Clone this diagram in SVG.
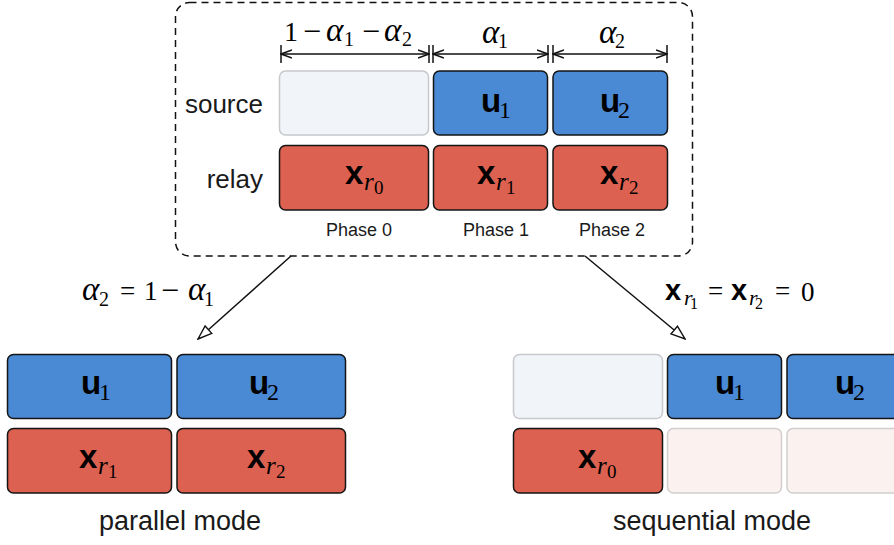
<svg xmlns="http://www.w3.org/2000/svg" width="894" height="545" viewBox="0 0 894 545">
<defs>
<style>
.bg{fill:#ffffff}
.blue{fill:#4A89D4;stroke:#151515;stroke-width:1.5}
.red{fill:#DD6150;stroke:#151515;stroke-width:1.5}
.lblue{fill:#F1F4F9;stroke:#C6C8CC;stroke-width:1.5}
.lred{fill:#FBF1EF;stroke:#D2CECE;stroke-width:1.5}
.dash{fill:none;stroke:#111;stroke-width:1.5;stroke-dasharray:7 5}
.ln{stroke:#111;stroke-width:1.5;fill:none}
.sans{font-family:"Liberation Sans",Arial,sans-serif;fill:#1a1a1a}
.bold{font-family:"Liberation Sans",Arial,sans-serif;font-weight:bold;fill:#000}
.ser{font-family:"Liberation Serif","Times New Roman",serif;fill:#000}
.it{font-style:italic}
.al{font-family:"Liberation Serif","Times New Roman",serif;font-style:italic;font-size:33px}
.mn{font-size:32px}
</style>
<marker id="dim" viewBox="0 0 12 10" refX="11" refY="5" markerWidth="12" markerHeight="10" markerUnits="userSpaceOnUse" orient="auto-start-reverse">
<path d="M0,1 L11,5 L0,9" fill="none" stroke="#111" stroke-width="1.4"/>
</marker>
<marker id="tri" viewBox="0 0 16 12" refX="15" refY="6" markerWidth="16" markerHeight="12" markerUnits="userSpaceOnUse" orient="auto">
<path d="M1,1 L15,6 L1,11 Z" fill="#fff" stroke="#111" stroke-width="1.4"/>
</marker>
</defs>
<rect class="bg" x="0" y="0" width="894" height="545"/>

<g id="frame">
<rect class="dash" x="175.5" y="2.5" width="517" height="253.5" rx="14"/>
</g>

<g id="dimensions">
<line class="ln" x1="281" y1="45" x2="281" y2="63"/>
<line class="ln" x1="429" y1="45" x2="429" y2="63"/>
<line class="ln" x1="433" y1="45" x2="433" y2="63"/>
<line class="ln" x1="548" y1="45" x2="548" y2="63"/>
<line class="ln" x1="553" y1="45" x2="553" y2="63"/>
<line class="ln" x1="667" y1="45" x2="667" y2="63"/>
<line class="ln" x1="281" y1="54" x2="429" y2="54" marker-start="url(#dim)" marker-end="url(#dim)"/>
<line class="ln" x1="433" y1="54" x2="548" y2="54" marker-start="url(#dim)" marker-end="url(#dim)"/>
<line class="ln" x1="553" y1="54" x2="667" y2="54" marker-start="url(#dim)" marker-end="url(#dim)"/>
<text class="ser" font-size="28"><tspan x="284" y="41">1</tspan><tspan class="mn" x="303" y="42">−</tspan><tspan class="al" x="326" y="41">α</tspan><tspan x="344" y="46" font-size="20">1</tspan><tspan class="mn" x="362" y="42">−</tspan><tspan class="al" x="384" y="41">α</tspan><tspan x="402" y="46" font-size="20">2</tspan></text>
<text class="ser" font-size="28"><tspan class="al" x="482" y="43">α</tspan><tspan x="498" y="48" font-size="20">1</tspan></text>
<text class="ser" font-size="28"><tspan class="al" x="599" y="43">α</tspan><tspan x="615" y="48" font-size="20">2</tspan></text>
</g>

<g id="row-labels">
<text class="sans" x="263" y="113" font-size="26" text-anchor="end">source</text>
<text class="sans" x="263" y="188" font-size="26" text-anchor="end">relay</text>
</g>

<g id="top-source-0"><rect class="lblue" x="279.5" y="71" width="149" height="64" rx="6"/></g>
<g id="top-source-1"><rect class="blue" x="433.5" y="71" width="114" height="64" rx="6"/>
<text><tspan class="bold" font-size="33" x="481" y="112">u</tspan><tspan class="ser" font-size="24" x="499" y="118">1</tspan></text></g>
<g id="top-source-2"><rect class="blue" x="553" y="71" width="114.5" height="64" rx="6"/>
<text><tspan class="bold" font-size="33" x="600" y="112">u</tspan><tspan class="ser" font-size="24" x="618" y="118">2</tspan></text></g>

<g id="top-relay-0"><rect class="red" x="279.5" y="145.5" width="149" height="64.5" rx="6"/>
<text><tspan class="bold" font-size="33" x="345" y="184">x</tspan><tspan class="ser it" font-size="25" x="364" y="190">r</tspan><tspan class="ser" font-size="19" x="374" y="194">0</tspan></text></g>
<g id="top-relay-1"><rect class="red" x="433.5" y="145.5" width="114" height="64.5" rx="6"/>
<text><tspan class="bold" font-size="33" x="477" y="184">x</tspan><tspan class="ser it" font-size="25" x="496" y="190">r</tspan><tspan class="ser" font-size="19" x="506" y="194">1</tspan></text></g>
<g id="top-relay-2"><rect class="red" x="553" y="145.5" width="114.5" height="64.5" rx="6"/>
<text><tspan class="bold" font-size="33" x="600" y="184">x</tspan><tspan class="ser it" font-size="25" x="619" y="190">r</tspan><tspan class="ser" font-size="19" x="629" y="194">2</tspan></text></g>

<g id="phase-labels">
<text class="sans" font-size="18" x="359" y="236" text-anchor="middle">Phase 0</text>
<text class="sans" font-size="18" x="496" y="236" text-anchor="middle">Phase 1</text>
<text class="sans" font-size="18" x="612" y="236" text-anchor="middle">Phase 2</text>
</g>

<g id="connectors">
<line class="ln" x1="291" y1="256" x2="198" y2="339" marker-end="url(#tri)"/>
<line class="ln" x1="585" y1="256" x2="685" y2="339" marker-end="url(#tri)"/>
<text class="ser" font-size="27"><tspan class="al" x="82" y="300">α</tspan><tspan x="99" y="306" font-size="20">2</tspan><tspan x="120" y="300">=</tspan><tspan x="144" y="300">1</tspan><tspan class="mn" x="161" y="301">−</tspan><tspan class="al" x="188" y="300">α</tspan><tspan x="204" y="306" font-size="20">1</tspan></text>
<text><tspan class="bold" font-size="29" x="665" y="300">x</tspan><tspan class="ser it" font-size="22" x="684" y="305">r</tspan><tspan class="ser" font-size="16" x="690" y="309">1</tspan><tspan class="ser" font-size="27" x="708" y="300">=</tspan><tspan class="bold" font-size="29" x="731" y="300">x</tspan><tspan class="ser it" font-size="22" x="749" y="305">r</tspan><tspan class="ser" font-size="16" x="755" y="309">2</tspan><tspan class="ser" font-size="27" x="775" y="300">=</tspan><tspan class="ser" font-size="27" x="801" y="301">0</tspan></text>
</g>

<g id="parallel-source-1"><rect class="blue" x="7.5" y="354.5" width="164" height="64" rx="6"/>
<text><tspan class="bold" font-size="33" x="81" y="394">u</tspan><tspan class="ser" font-size="24" x="99" y="400">1</tspan></text></g>
<g id="parallel-source-2"><rect class="blue" x="177" y="354.5" width="168.5" height="64" rx="6"/>
<text><tspan class="bold" font-size="33" x="249" y="394">u</tspan><tspan class="ser" font-size="24" x="267" y="400">2</tspan></text></g>
<g id="parallel-relay-1"><rect class="red" x="7.5" y="428.5" width="164" height="64.5" rx="6"/>
<text><tspan class="bold" font-size="33" x="79" y="468">x</tspan><tspan class="ser it" font-size="25" x="98" y="474">r</tspan><tspan class="ser" font-size="19" x="108" y="478">1</tspan></text></g>
<g id="parallel-relay-2"><rect class="red" x="177" y="428.5" width="168.5" height="64.5" rx="6"/>
<text><tspan class="bold" font-size="33" x="247" y="468">x</tspan><tspan class="ser it" font-size="25" x="266" y="474">r</tspan><tspan class="ser" font-size="19" x="276" y="478">2</tspan></text></g>
<g id="parallel-caption"><text class="sans" font-size="27" x="180" y="530" text-anchor="middle">parallel mode</text></g>

<g id="sequential-source-0"><rect class="lblue" x="513.5" y="354.5" width="149" height="64" rx="6"/></g>
<g id="sequential-source-1"><rect class="blue" x="667.5" y="354.5" width="114" height="64" rx="6"/>
<text><tspan class="bold" font-size="33" x="715" y="393.5">u</tspan><tspan class="ser" font-size="24" x="733" y="399.5">1</tspan></text></g>
<g id="sequential-source-2"><rect class="blue" x="787" y="354.5" width="114.5" height="64" rx="6"/>
<text><tspan class="bold" font-size="33" x="835" y="393.5">u</tspan><tspan class="ser" font-size="24" x="853" y="399.5">2</tspan></text></g>
<g id="sequential-relay-0"><rect class="red" x="513.5" y="428.5" width="149" height="64.5" rx="6"/>
<text><tspan class="bold" font-size="33" x="578" y="468">x</tspan><tspan class="ser it" font-size="25" x="597" y="474">r</tspan><tspan class="ser" font-size="19" x="607" y="478">0</tspan></text></g>
<g id="sequential-relay-1"><rect class="lred" x="667.5" y="428.5" width="114" height="64.5" rx="6"/></g>
<g id="sequential-relay-2"><rect class="lred" x="787" y="428.5" width="114.5" height="64.5" rx="6"/></g>
<g id="sequential-caption"><text class="sans" font-size="27" x="712" y="530" text-anchor="middle">sequential mode</text></g>
</svg>
